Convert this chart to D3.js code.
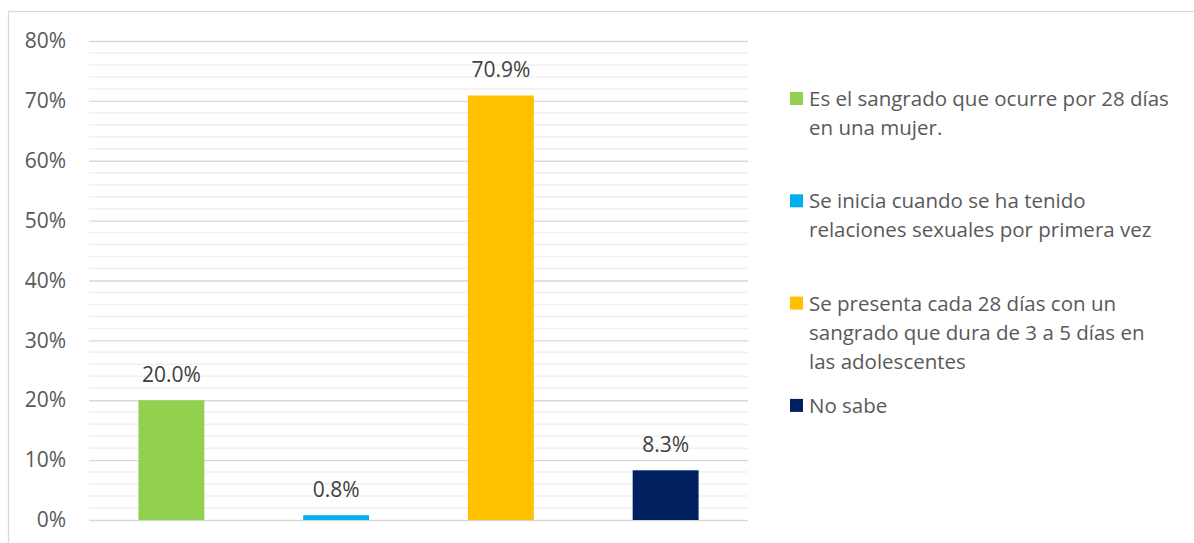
<!DOCTYPE html>
<html>
<head>
<meta charset="utf-8">
<script src="https://cdn.jsdelivr.net/npm/d3@7"></script>
<style>
  html, body { margin: 0; padding: 0; background: #fff; }
  svg { display: block; font-family: "Open Sans", "Noto Sans", sans-serif; }
</style>
</head>
<body>
<svg id="chart" width="1194" height="543"></svg>
<script>
// Answer options (legend entries; "\n" marks a legend line break) and the share of respondents for each
const categories = [
  "Es el sangrado que ocurre por 28 días\nen una mujer.",
  "Se inicia cuando se ha tenido\nrelaciones sexuales por primera vez",
  "Se presenta cada 28 días con un\nsangrado que dura de 3 a 5 días en\nlas adolescentes",
  "No sabe"
];
const values = [20.0, 0.8, 70.9, 8.3];
const colors = ["#92D050", "#00B0F0", "#FFC000", "#002060"];
const majorTicks = [0, 10, 20, 30, 40, 50, 60, 70, 80];

const svg = d3.select("#chart");
const W = 1194, H = 543;

// Outer chart frame
svg.append("rect")
  .attr("x", 8.5).attr("y", 11.5)
  .attr("width", W + 20).attr("height", H + 20)
  .attr("fill", "#fff").attr("stroke", "#d9d9d9").attr("stroke-width", 1.3);

const plot = { left: 89, right: 748, top: 41, bottom: 520 };

const x = d3.scaleBand()
  .domain(d3.range(categories.length))
  .range([plot.left, plot.right])
  .paddingInner(0.6).paddingOuter(0.3);

const y = d3.scaleLinear()
  .domain([0, 80])
  .range([plot.bottom, plot.top]);

// Minor gridlines every 2%
const minor = d3.range(0, 81, 2).filter(v => v % 10 !== 0);
svg.append("g").selectAll("line").data(minor).join("line")
  .attr("x1", plot.left).attr("x2", plot.right)
  .attr("y1", d => y(d)).attr("y2", d => y(d))
  .attr("stroke", "#f0f0f0").attr("stroke-width", 1.5);

// Y axis with major gridlines
const yAxis = d3.axisLeft(y)
  .tickValues(majorTicks)
  .tickFormat(d => d + "%")
  .tickSize(-(plot.right - plot.left))
  .tickPadding(23);

const gy = svg.append("g")
  .attr("transform", `translate(${plot.left},0)`)
  .call(yAxis);
gy.select(".domain").remove();
gy.selectAll(".tick line").attr("stroke", "#d9d9d9").attr("stroke-width", 1.4);
gy.selectAll(".tick text")
  .attr("fill", "#595959")
  .style("font-size", "21px")
  .style("font-family", "'Open Sans', sans-serif");

// Bars
svg.append("g").selectAll("rect").data(values).join("rect")
  .attr("x", (d, i) => x(i))
  .attr("width", x.bandwidth())
  .attr("y", d => y(d))
  .attr("height", d => y(0) - y(d))
  .attr("fill", (d, i) => colors[i]);

// Value labels above bars
svg.append("g").selectAll("text").data(values).join("text")
  .attr("x", (d, i) => x(i) + x.bandwidth() / 2)
  .attr("y", d => y(d) - 18)
  .attr("text-anchor", "middle")
  .attr("fill", "#404040")
  .style("font-size", "21px")
  .text(d => d.toFixed(1) + "%");

// Legend
const legend = svg.append("g");
const legX = 790, legY0 = 106, legStep = 102.3, lineH = 29;

categories.forEach((label, i) => {
  const gy0 = legY0 + i * legStep;
  legend.append("rect")
    .attr("x", legX).attr("y", gy0 - 14)
    .attr("width", 13).attr("height", 13)
    .attr("fill", colors[i]);

  legend.append("text")
    .attr("fill", "#595959")
    .style("font-size", "20.5px")
    .selectAll("tspan")
    .data(label.split("\n"))
    .join("tspan")
    .attr("x", legX + 19)
    .attr("y", (d, k) => gy0 + k * lineH)
    .text(d => d);
});
</script>
</body>
</html>
